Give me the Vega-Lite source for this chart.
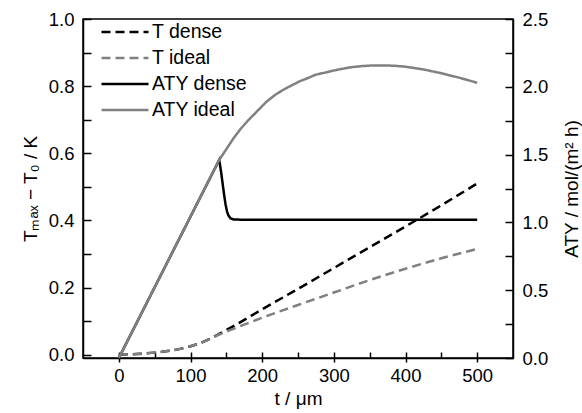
{
  "$schema": "https://vega.github.io/schema/vega-lite/v6.json",
  "width": 430,
  "height": 339,
  "autosize": {"type": "none"},
  "padding": {"left": 83, "top": 19, "right": 69, "bottom": 55},
  "background": "white",
  "config": {
    "font": "Liberation Sans",
    "view": {"stroke": "black", "strokeWidth": 1.5},
    "axis": {
      "domainColor": "black", "domainWidth": 1.5,
      "tickColor": "black", "tickWidth": 1.5,
      "labelFontSize": 18.5, "labelColor": "black",
      "titleFontSize": 19, "titleFontWeight": "normal", "titleColor": "black",
      "grid": false
    }
  },
  "datasets": {
    "T": [
      {"t": 0, "value": 0, "series": "T dense"},
      {"t": 25, "value": 0.002, "series": "T dense"},
      {"t": 50, "value": 0.006, "series": "T dense"},
      {"t": 75, "value": 0.013, "series": "T dense"},
      {"t": 100, "value": 0.025, "series": "T dense"},
      {"t": 120, "value": 0.04, "series": "T dense"},
      {"t": 140, "value": 0.062, "series": "T dense"},
      {"t": 160, "value": 0.085, "series": "T dense"},
      {"t": 200, "value": 0.135, "series": "T dense"},
      {"t": 250, "value": 0.196, "series": "T dense"},
      {"t": 300, "value": 0.258, "series": "T dense"},
      {"t": 350, "value": 0.32, "series": "T dense"},
      {"t": 400, "value": 0.382, "series": "T dense"},
      {"t": 450, "value": 0.445, "series": "T dense"},
      {"t": 500, "value": 0.51, "series": "T dense"},
      {"t": 0, "value": 0, "series": "T ideal"},
      {"t": 25, "value": 0.002, "series": "T ideal"},
      {"t": 50, "value": 0.006, "series": "T ideal"},
      {"t": 75, "value": 0.013, "series": "T ideal"},
      {"t": 100, "value": 0.025, "series": "T ideal"},
      {"t": 120, "value": 0.04, "series": "T ideal"},
      {"t": 140, "value": 0.06, "series": "T ideal"},
      {"t": 160, "value": 0.077, "series": "T ideal"},
      {"t": 200, "value": 0.11, "series": "T ideal"},
      {"t": 250, "value": 0.148, "series": "T ideal"},
      {"t": 300, "value": 0.185, "series": "T ideal"},
      {"t": 350, "value": 0.222, "series": "T ideal"},
      {"t": 400, "value": 0.256, "series": "T ideal"},
      {"t": 450, "value": 0.287, "series": "T ideal"},
      {"t": 500, "value": 0.315, "series": "T ideal"}
    ],
    "ATY": [
      {"t": 0, "value": 0, "series": "ATY dense"},
      {"t": 140, "value": 1.46, "series": "ATY dense"},
      {"t": 141, "value": 1.43, "series": "ATY dense"},
      {"t": 143, "value": 1.36, "series": "ATY dense"},
      {"t": 145, "value": 1.28, "series": "ATY dense"},
      {"t": 147, "value": 1.2, "series": "ATY dense"},
      {"t": 149, "value": 1.13, "series": "ATY dense"},
      {"t": 151, "value": 1.08, "series": "ATY dense"},
      {"t": 153, "value": 1.05, "series": "ATY dense"},
      {"t": 156, "value": 1.03, "series": "ATY dense"},
      {"t": 160, "value": 1.022, "series": "ATY dense"},
      {"t": 170, "value": 1.02, "series": "ATY dense"},
      {"t": 500, "value": 1.02, "series": "ATY dense"},
      {"t": 0, "value": 0, "series": "ATY ideal"},
      {"t": 140, "value": 1.46, "series": "ATY ideal"},
      {"t": 150, "value": 1.54, "series": "ATY ideal"},
      {"t": 160, "value": 1.62, "series": "ATY ideal"},
      {"t": 170, "value": 1.69, "series": "ATY ideal"},
      {"t": 180, "value": 1.75, "series": "ATY ideal"},
      {"t": 193, "value": 1.82, "series": "ATY ideal"},
      {"t": 206, "value": 1.89, "series": "ATY ideal"},
      {"t": 218, "value": 1.94, "series": "ATY ideal"},
      {"t": 230, "value": 1.98, "series": "ATY ideal"},
      {"t": 241, "value": 2.01, "series": "ATY ideal"},
      {"t": 252, "value": 2.04, "series": "ATY ideal"},
      {"t": 264, "value": 2.065, "series": "ATY ideal"},
      {"t": 275, "value": 2.09, "series": "ATY ideal"},
      {"t": 288, "value": 2.105, "series": "ATY ideal"},
      {"t": 300, "value": 2.12, "series": "ATY ideal"},
      {"t": 312, "value": 2.133, "series": "ATY ideal"},
      {"t": 325, "value": 2.145, "series": "ATY ideal"},
      {"t": 340, "value": 2.153, "series": "ATY ideal"},
      {"t": 355, "value": 2.158, "series": "ATY ideal"},
      {"t": 370, "value": 2.158, "series": "ATY ideal"},
      {"t": 385, "value": 2.155, "series": "ATY ideal"},
      {"t": 400, "value": 2.148, "series": "ATY ideal"},
      {"t": 425, "value": 2.128, "series": "ATY ideal"},
      {"t": 450, "value": 2.1, "series": "ATY ideal"},
      {"t": 475, "value": 2.067, "series": "ATY ideal"},
      {"t": 500, "value": 2.03, "series": "ATY ideal"}
    ]
  },
  "layer": [
    {
      "data": {"name": "T"},
      "layer": [
        {
          "mark": {"type": "line", "strokeWidth": 2.5, "interpolate": "monotone"},
          "encoding": {
            "x": {
              "field": "t", "type": "quantitative",
              "scale": {"domain": [-50, 550], "nice": false, "zero": false},
              "axis": {
                "title": "t / μm",
                "values": [0, 100, 200, 300, 400, 500],
                "format": "d",
                "ticks": true,
                "tickSize": 4,
                "labelPadding": 4,
                "titlePadding": 5
              }
            },
            "y": {
              "field": "value", "type": "quantitative",
              "scale": {"domain": [-0.01, 1.0], "nice": false, "zero": false},
              "axis": {
                "title": "Tₘₐₓ − T₀ / K",
                "orient": "left",
                "values": [0, 0.2, 0.4, 0.6, 0.8, 1.0],
                "format": ".1f",
                "ticks": false,
                "labelPadding": 9,
                "titlePadding": 8
              }
            },
            "color": {
              "field": "series", "type": "nominal",
              "scale": {"domain": ["T dense", "T ideal", "ATY dense", "ATY ideal"], "range": ["black", "#808080", "black", "#808080"]},
              "legend": {
                "title": null, "orient": "none", "legendX": 29, "legendY": 0,
                "symbolType": "M-2,0H2", "symbolSize": 552, "symbolStrokeWidth": 2.5,
                "labelFontSize": 19.5, "labelColor": "black", "rowPadding": 3, "labelOffset": 14
              }
            },
            "strokeDash": {
              "field": "series", "type": "nominal",
              "scale": {"domain": ["T dense", "T ideal", "ATY dense", "ATY ideal"], "range": [[9, 5], [9, 5], [1, 0], [1, 0]]},
              "legend": {
                "title": null, "orient": "none", "legendX": 29, "legendY": 0,
                "symbolType": "M-2,0H2", "symbolSize": 552, "symbolStrokeWidth": 2.5,
                "labelFontSize": 19.5, "labelColor": "black", "rowPadding": 3, "labelOffset": 14
              }
            }
          }
        },
        {
          "mark": {"type": "line", "strokeOpacity": 0},
          "encoding": {
            "x": {
              "field": "t", "type": "quantitative",
              "axis": {
                "orient": "top", "offset": -339, "title": null, "labels": false, "domain": false,
                "values": [0, 50, 100, 150, 200, 250, 300, 350, 400, 450, 500],
                "tickSize": 6
              }
            },
            "y": {
              "field": "value", "type": "quantitative",
              "axis": {
                "orient": "right", "offset": -430, "title": null, "labels": false, "domain": false,
                "values": [0, 0.1, 0.2, 0.3, 0.4, 0.5, 0.6, 0.7, 0.8, 0.9, 1.0],
                "tickSize": 8
              }
            }
          }
        }
      ],
      "resolve": {"axis": {"x": "independent", "y": "independent"}}
    },
    {
      "data": {"name": "ATY"},
      "layer": [
        {
          "mark": {"type": "line", "strokeWidth": 2.5, "interpolate": "linear"},
          "encoding": {
            "x": {"field": "t", "type": "quantitative", "axis": null},
            "y": {
              "field": "value", "type": "quantitative",
              "scale": {"domain": [0, 2.5], "nice": false},
              "axis": {
                "title": "ATY / mol/(m² h)",
                "orient": "right",
                "titleAngle": 270,
                "values": [0, 0.5, 1.0, 1.5, 2.0, 2.5],
                "format": ".1f",
                "ticks": false,
                "labelPadding": 9,
                "titlePadding": 34
              }
            },
            "color": {
              "field": "series", "type": "nominal",
              "scale": {"domain": ["T dense", "T ideal", "ATY dense", "ATY ideal"], "range": ["black", "#808080", "black", "#808080"]}
            },
            "strokeDash": {
              "field": "series", "type": "nominal",
              "scale": {"domain": ["T dense", "T ideal", "ATY dense", "ATY ideal"], "range": [[9, 5], [9, 5], [1, 0], [1, 0]]}
            }
          }
        },
        {
          "mark": {"type": "line", "strokeOpacity": 0},
          "encoding": {
            "x": {"field": "t", "type": "quantitative", "axis": null},
            "y": {
              "field": "value", "type": "quantitative",
              "axis": {
                "orient": "left", "offset": -430, "title": null, "labels": false, "domain": false,
                "values": [0, 0.25, 0.5, 0.75, 1.0, 1.25, 1.5, 1.75, 2.0, 2.25, 2.5],
                "tickSize": 8
              }
            }
          }
        }
      ],
      "resolve": {"axis": {"y": "independent"}}
    }
  ],
  "resolve": {"scale": {"y": "independent"}, "axis": {"x": "independent", "y": "independent"}}
}
